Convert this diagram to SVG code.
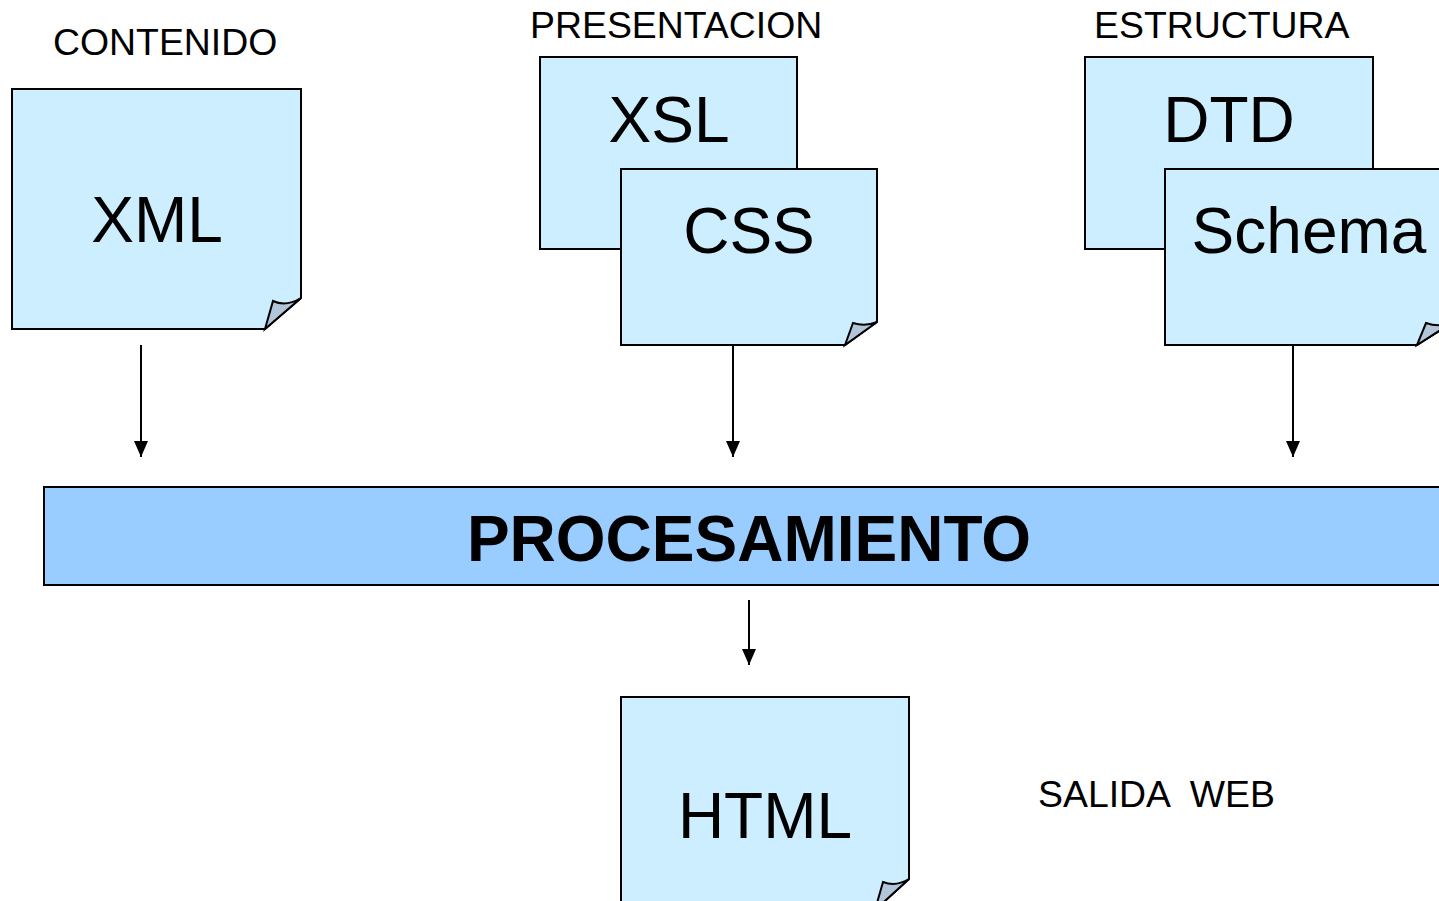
<svg xmlns="http://www.w3.org/2000/svg" width="1439" height="901" viewBox="0 0 1439 901">
<defs>
<style>
.doc{fill:#cceeff;stroke:#000;stroke-width:2;stroke-linejoin:miter}
.fold{fill:#b3c6d9;stroke:#000;stroke-width:2;stroke-linejoin:miter}
.big{font-family:"Liberation Sans",Arial,sans-serif;font-size:64px;fill:#000;text-anchor:middle}
.lbl{font-family:"Liberation Sans",Arial,sans-serif;font-size:37.4px;fill:#000;white-space:pre}
.conn{stroke:#000;stroke-width:2;fill:none}
</style>
<marker id="ah" markerWidth="16" markerHeight="16" viewBox="0 0 16 16" refX="16" refY="8" orient="auto" markerUnits="userSpaceOnUse">
<path d="M0,1 L16,8 L0,15 Z" fill="#000"/>
</marker>
</defs>
<rect width="1439" height="901" fill="#fff"/>

<text class="lbl" x="53" y="55">CONTENIDO</text>
<text class="lbl" x="530" y="38">PRESENTACION</text>
<text class="lbl" x="1094" y="38">ESTRUCTURA</text>
<text class="lbl" x="1038" y="807" xml:space="preserve">SALIDA  WEB</text>

<g id="xml">
<path class="doc" d="M12,89 H301 V298 L265,329 H12 Z"/>
<path class="fold" d="M265,329 L273,301 Q286,307 301,298 Z"/>
<text class="big" x="157" y="242">XML</text>
</g>

<g id="xsl">
<rect class="doc" x="540" y="57" width="257" height="192"/>
<text class="big" x="669" y="142">XSL</text>
</g>

<g id="css">
<path class="doc" d="M621,169 H877 V322 L845,345 H621 Z"/>
<path class="fold" d="M845,345 L853,323 Q865,327 877,322 Z"/>
<text class="big" x="749" y="253">CSS</text>
</g>

<g id="dtd">
<rect class="doc" x="1085" y="57" width="288" height="192"/>
<text class="big" x="1229" y="142">DTD</text>
</g>

<g id="schema">
<path class="doc" d="M1165,169 H1453 V322 L1417,345 H1165 Z"/>
<path class="fold" d="M1417,345 L1426,323 Q1440,328 1453,322 Z"/>
<text class="big" x="1309" y="253">Schema</text>
</g>

<g id="procesamiento">
<rect x="44" y="487" width="1420" height="98" fill="#99ccff" stroke="#000" stroke-width="2"/>
<text x="749" y="561" font-family="'Liberation Sans',Arial,sans-serif" font-size="64" font-weight="bold" text-anchor="middle">PROCESAMIENTO</text>
</g>

<g id="html">
<path class="doc" d="M621,697 H909 V879 L875,910 H621 Z"/>
<path class="fold" d="M875,910 L883,882 Q896,887 909,879 Z"/>
<text class="big" x="765" y="838">HTML</text>
</g>

<g id="connectors">
<line class="conn" x1="141" y1="345" x2="141" y2="457" marker-end="url(#ah)"/>
<line class="conn" x1="733" y1="346" x2="733" y2="457" marker-end="url(#ah)"/>
<line class="conn" x1="1293" y1="346" x2="1293" y2="457" marker-end="url(#ah)"/>
<line class="conn" x1="749" y1="600" x2="749" y2="665" marker-end="url(#ah)"/>
</g>
</svg>
